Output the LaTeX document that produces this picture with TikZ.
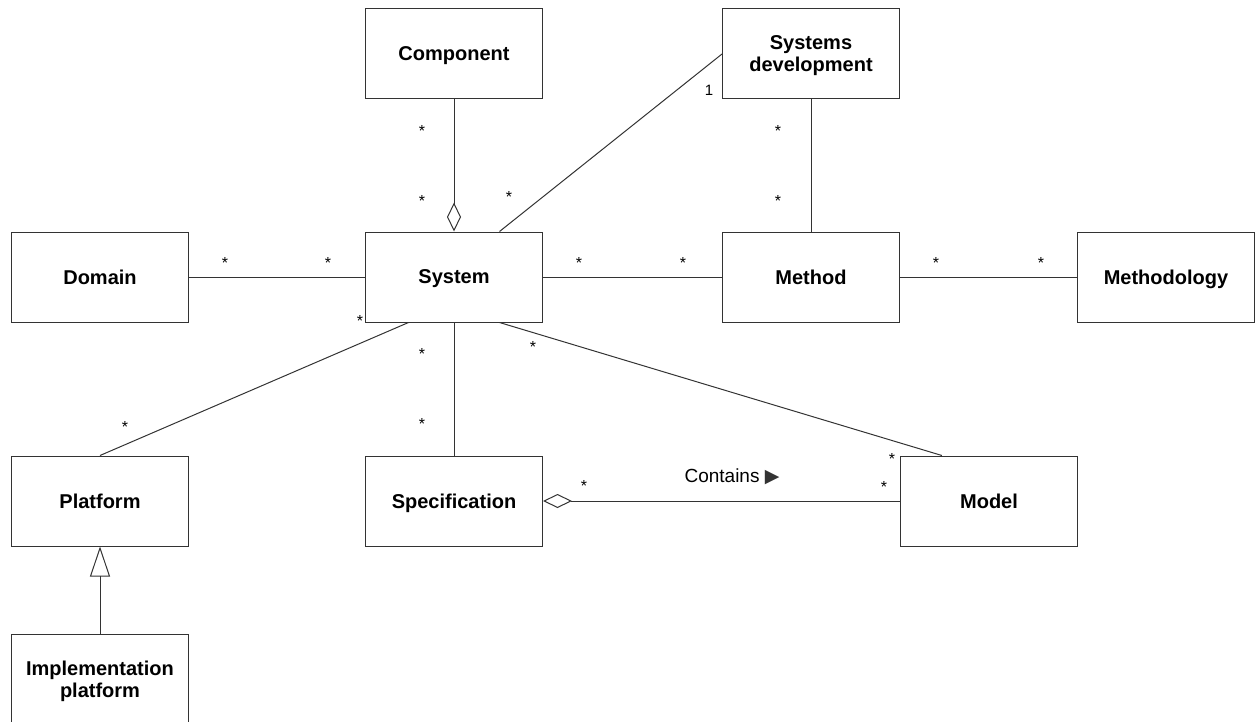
\documentclass[tikz,border=0pt]{standalone}
\usepackage{fontspec}
\setmainfont{Liberation Sans}
\newfontfamily\symfont{DejaVu Sans}
\usepackage{tikz}
\usetikzlibrary{arrows.meta}

\begin{document}
\begin{tikzpicture}[
    x=1pt, y=-1pt,  % one unit per pixel, y pointing down
    every node/.style={inner sep=0pt},
    class/.style={draw=black!80, line width=1pt, fill=white, minimum width=177pt, minimum height=90pt,
        align=center, text depth=0pt, font=\bfseries\fontsize{20}{22}\selectfont},
    mult/.style={font=\fontsize{16}{16}\selectfont, yshift=-3.5pt},
    assoc/.style={draw=black!80, line width=1pt},
    aggr/.style={assoc, -{Diamond[open, length=29pt, width=14pt]}},
    gen/.style={assoc, -{Triangle[open, length=30pt, width=20pt]}}
]
    \useasboundingbox (0,0) rectangle (1257,722);

    % Define the classes
    \node[class] (comp)   at (454,54)   {Component};
    \node[class] (sysdev) at (811,54)   {Systems\\development};
    \node[class] (dom)    at (100,277)  {Domain};
    \node[class] (sys)    at (454,277)  {System};
    \node[class] (meth)   at (811,277)  {Method};
    \node[class] (methy)  at (1166,277) {Methodology};
    \node[class] (plat)   at (100,501)  {Platform};
    \node[class] (spec)   at (454,501)  {Specification};
    \node[class] (model)  at (989,501)  {Model};
    \node[class] (impl)   at (100,679)  {Implementation\\platform};

    % Associations
    \draw[aggr] (comp) -- (sys);
    \draw[assoc] (sys.45) -- (sysdev.west);
    \draw[assoc] (sysdev) -- (meth);
    \draw[assoc] (dom) -- (sys);
    \draw[assoc] (sys) -- (meth);
    \draw[assoc] (meth) -- (methy);
    \draw[assoc] (sys.225) -- (plat.north);
    \draw[assoc] (sys) -- (spec);
    \draw[assoc] (sys.315) -- (model.136);
    \draw[aggr] (model) -- (spec);
    \draw[gen] (impl) -- (plat);

    % Multiplicities
    \node[mult] (cs1) at (422,127) {*};
    \node[mult] (cs2) at (422,197) {*};
    \node[mult] (sd1) at (509,193) {*};
    \node[font=\fontsize{15}{15}\selectfont] (sd2) at (709,90) {1};
    \node[mult] (dm1) at (778,127) {*};
    \node[mult] (dm2) at (778,197) {*};
    \node[mult] (ds1) at (225,259) {*};
    \node[mult] (ds2) at (328,259) {*};
    \node[mult] (sm1) at (579,259) {*};
    \node[mult] (sm2) at (683,259) {*};
    \node[mult] (mm1) at (936,259) {*};
    \node[mult] (mm2) at (1041,259) {*};
    \node[mult] (sp1) at (360,317) {*};
    \node[mult] (sp2) at (125,423) {*};
    \node[mult] (ss1) at (422,350) {*};
    \node[mult] (ss2) at (422,420) {*};
    \node[mult] (so1) at (533,343) {*};
    \node[mult] (so2) at (892,455) {*};
    \node[mult] (co1) at (584,482) {*};
    \node[mult] (co2) at (884,483) {*};

    % Association name
    \node[font=\fontsize{19}{19}\selectfont] (contains) at (732,477)
        {Contains \textcolor{black!80}{\symfont\fontsize{19}{19}\selectfont ▶}};

\end{tikzpicture}
\end{document}
